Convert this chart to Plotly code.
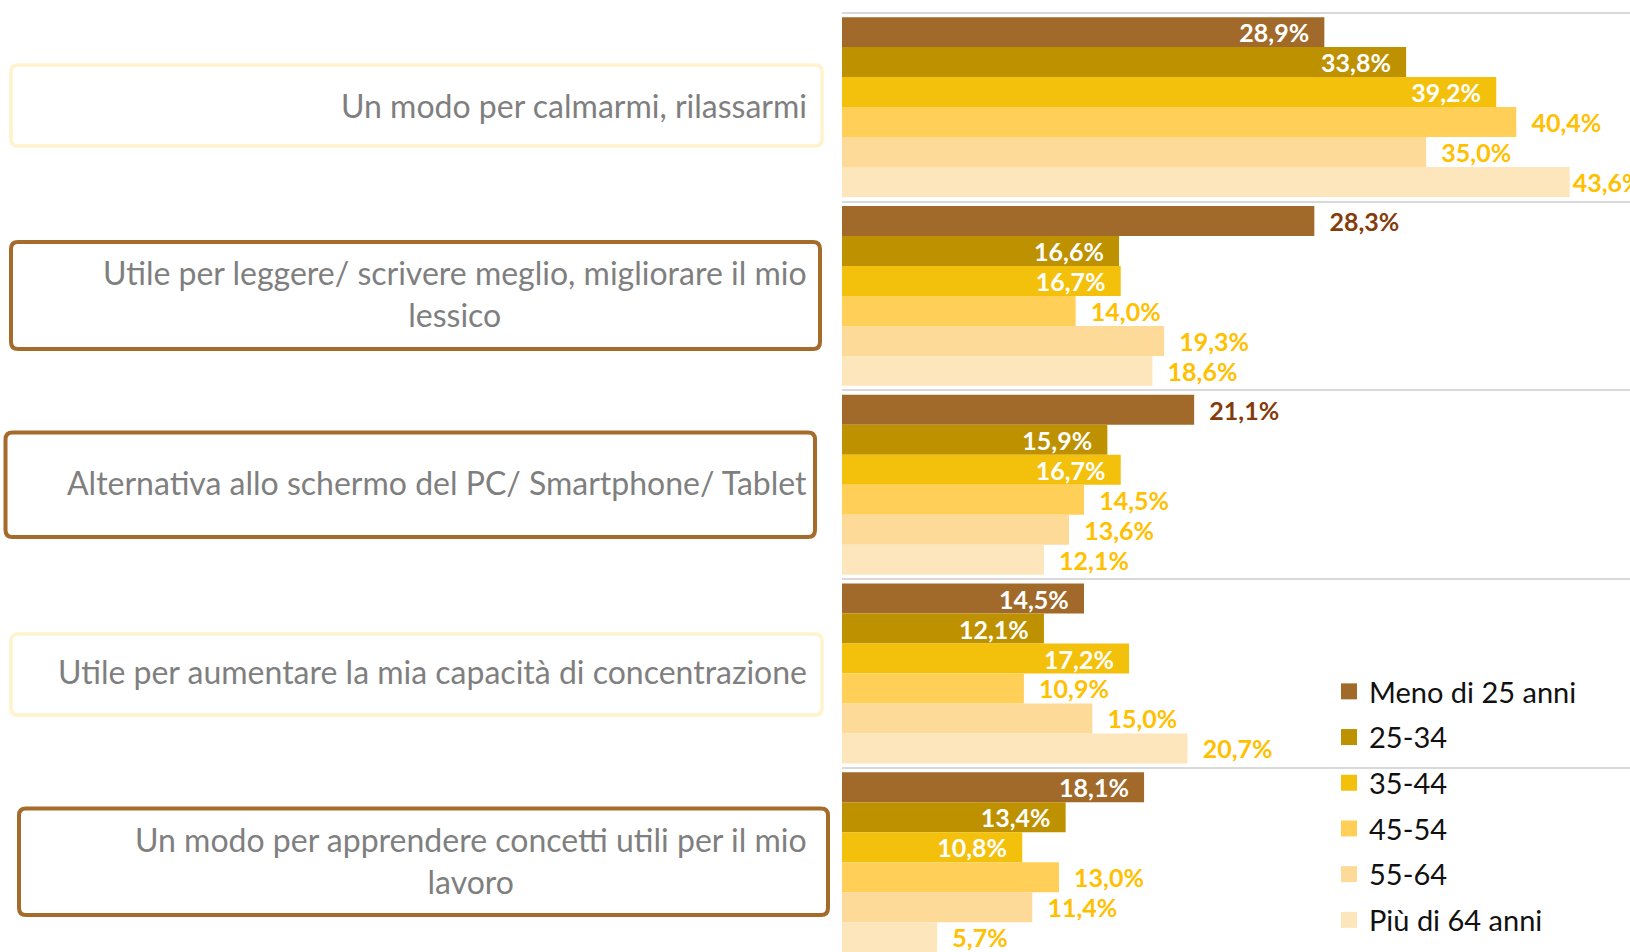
import plotly.graph_objects as go

# ---------------- data ----------------
categories = [
    "Un modo per calmarmi, rilassarmi",
    "Utile per leggere/ scrivere meglio, migliorare il mio<br>lessico",
    "Alternativa allo schermo del PC/ Smartphone/ Tablet",
    "Utile per aumentare la mia capacità di concentrazione",
    "Un modo per apprendere concetti utili per il mio<br>lavoro",
]
age_groups = ["Meno di 25 anni", "25-34", "35-44", "45-54", "55-64", "Più di 64 anni"]

v_meno25 = [28.9, 28.3, 21.1, 14.5, 18.1]
v_25_34 = [33.8, 16.6, 15.9, 12.1, 13.4]
v_35_44 = [39.2, 16.7, 16.7, 17.2, 10.8]
v_45_54 = [40.4, 14.0, 14.5, 10.9, 13.0]
v_55_64 = [35.0, 19.3, 13.6, 15.0, 11.4]
v_over64 = [43.6, 18.6, 12.1, 20.7, 5.7]
series_values = [v_meno25, v_25_34, v_35_44, v_45_54, v_55_64, v_over64]

# ---------------- styling ----------------
bar_colors = ["#A16A2A", "#BE9100", "#F3C10B", "#FFCF57", "#FDDA98", "#FEE6BC"]
label_pos = [
    ["inside", "outside", "outside", "inside", "inside"],
    ["inside"] * 5,
    ["inside"] * 5,
    ["outside"] * 5,
    ["outside"] * 5,
    ["outside"] * 5,
]
INSIDE_COLOR = "#FFFFFF"
OUT_BROWN = "#843C0C"
OUT_YELLOW = "#FFC000"
NB = "\u00a0" * 2

W, H = 1630, 952
GRID_TOP = 12.7          # y of the first category boundary
L = 842                  # x where the bars start
T = 5
PX_PER_PCT = 16.69
BAND = 188.8
plot_w = W - L
plot_h = H - T
x_max = plot_w / PX_PER_PCT
y_top = -0.5 - (GRID_TOP - T) / BAND
y_bottom = y_top + plot_h / BAND


def fmt(v):
    return f"{v:.1f}".replace(".", ",") + "%"


fig = go.Figure()
y_idx = list(range(len(categories)))
for name, vals, col, pos in zip(age_groups, series_values, bar_colors, label_pos):
    texts, tcols = [], []
    for v, p in zip(vals, pos):
        if p == "inside":
            texts.append(fmt(v) + NB)
            tcols.append(INSIDE_COLOR)
        else:
            # labels running off the right edge get no extra gap (as in the original)
            pad = NB if v + 5 < x_max else ""
            texts.append(pad + fmt(v))
            tcols.append(OUT_BROWN if col == bar_colors[0] else OUT_YELLOW)
    fig.add_trace(go.Bar(
        name=name, x=vals, y=y_idx, orientation="h",
        marker=dict(color=col, line=dict(width=0)),
        text=texts, textposition=pos, insidetextanchor="end",
        textangle=0, constraintext="none",
        textfont=dict(family="Lato", size=25, color=tcols, weight="bold"),
        showlegend=False, hoverinfo="skip",
    ))

# legend entries (square keys)
for name, col in zip(age_groups, bar_colors):
    fig.add_trace(go.Scatter(
        name=name, x=[None], y=[None], mode="markers",
        marker=dict(symbol="square", size=16, color=col),
        legendgroup=name, showlegend=True, hoverinfo="skip",
    ))


# ------------- category label boxes -------------
def px_x(px):
    return (px - L) / plot_w


def px_y(py):
    return (py - GRID_TOP) / BAND - 0.5


boxes = [  # left, right, top, bottom (px), color, width
    (11, 822, 65, 146, "#FFF2CC", 3.5),
    (11, 820, 242, 349, "#A56B2B", 4),
    (5.5, 815, 432.5, 537, "#A56B2B", 4),
    (11, 822, 634, 715, "#FFF2CC", 3.5),
    (19, 828, 808.5, 915, "#A56B2B", 4),
]
shapes = []
r = 7
for (x0, x1, y0, y1, c, lw) in boxes:
    pts = (
        f"M {px_x(x0 + r)},{px_y(y0)} L {px_x(x1 - r)},{px_y(y0)} "
        f"Q {px_x(x1)},{px_y(y0)} {px_x(x1)},{px_y(y0 + r)} "
        f"L {px_x(x1)},{px_y(y1 - r)} Q {px_x(x1)},{px_y(y1)} {px_x(x1 - r)},{px_y(y1)} "
        f"L {px_x(x0 + r)},{px_y(y1)} Q {px_x(x0)},{px_y(y1)} {px_x(x0)},{px_y(y1 - r)} "
        f"L {px_x(x0)},{px_y(y0 + r)} Q {px_x(x0)},{px_y(y0)} {px_x(x0 + r)},{px_y(y0)} Z"
    )
    shapes.append(dict(type="path", path=pts, xref="paper", yref="y",
                       line=dict(color=c, width=lw), fillcolor="rgba(0,0,0,0)",
                       layer="above"))

annotations = []
for i, cat in enumerate(categories):
    annotations.append(dict(
        text=cat, xref="paper", yref="y", x=px_x(809), y=i, yshift=2,
        xanchor="right", yanchor="middle", align="center", showarrow=False,
        font=dict(family="Lato", size=32, color="#7F7F7F"),
    ))

fig.update_layout(
    width=W, height=H, autosize=False,
    margin=dict(l=L, r=0, t=T, b=0, pad=0),
    paper_bgcolor="white", plot_bgcolor="white",
    barmode="group", bargap=0.047, bargroupgap=0,
    xaxis=dict(range=[0, x_max], showgrid=False, zeroline=False,
               showticklabels=False, showline=False, fixedrange=True),
    yaxis=dict(range=[y_bottom, y_top], tickvals=[-0.5, 0.5, 1.5, 2.5, 3.5, 4.5],
               showgrid=True, gridcolor="#D9D9D9", gridwidth=2, zeroline=False,
               showticklabels=False, ticks="", showline=False),
    legend=dict(x=px_x(1329), y=(H - 666) / plot_h, xanchor="left", yanchor="top",
                bgcolor="rgba(0,0,0,0)", font=dict(family="Lato", size=29, color="#111111"),
                tracegroupgap=5, traceorder="grouped", itemsizing="trace"),
    shapes=shapes, annotations=annotations,
    showlegend=True,
)

fig.write_html("out.html", config={"displayModeBar": False},
               post_script="document.body.style.margin='0px';")
